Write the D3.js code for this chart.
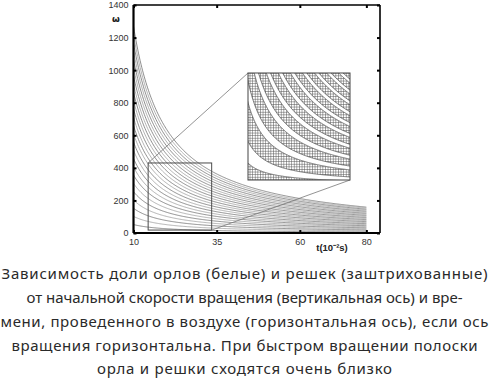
<!DOCTYPE html>
<html><head><meta charset="utf-8">
<script src="https://cdn.jsdelivr.net/npm/d3@7"></script>
<style>body{margin:0;background:#fff}svg{display:block}</style>
</head><body>
<svg id="c" width="489" height="379"></svg>
<script>
// ---- data ----
// value of ω at t = 10 (10^-2 s) for each boundary hyperbola ω·t = const
const curveOmegaAt10 = [52,102,152,203,254,305,356,406,457,508,559,610,660,711,762,813,864,914,965,1016,1067,1118,1168,1219,1270];
const xTicks = [10,35,60,80];
const yTicks = [0,200,400,600,800,1000,1200,1400];
// zoomed window in the main plot (t range, ω range)
const zoomT = [14.4, 33.5];
const zoomW = [18, 430];
// window shown by the magnified inset and its band boundaries (ω·t constants)
const insetT = [6, 33.5];
const insetW = [18, 430];
const insetBounds = [500,1000,1900,2400,3300,3800,4700,5200,6100,6600,7500,8000,8900,9400,10300,10800,11700,12200,13100,13600];
const caption = [
  "Зависимость доли орлов (белые) и решек (заштрихованные)",
  "от начальной скорости вращения (вертикальная ось) и вре-",
  "мени, проведенного в воздухе (горизонтальная ось), если ось",
  "вращения горизонтальна. При быстром вращении полоски",
  "орла и решки сходятся очень близко"
];

const svg = d3.select("#c");
const tMax = 84.1;
const x = d3.scaleLinear([10, tMax], [133.5, 380]);
const y = d3.scaleLinear([0, 1400], [233, 5]);

const defs = svg.append("defs");
const pat = defs.append("pattern").attr("id","hatch").attr("patternUnits","userSpaceOnUse")
  .attr("width",2.6).attr("height",2.6);
pat.append("rect").attr("width",2.6).attr("height",2.6).attr("fill","#fff");
pat.append("path").attr("d","M0,0.3H2.6M0.3,0V2.6").attr("stroke","#555").attr("stroke-width",0.6);
defs.append("clipPath").attr("id","plotclip").append("rect")
  .attr("x",x(10)).attr("y",y(1400)).attr("width",x(tMax)-x(10)).attr("height",y(0)-y(1400));

// ---- curves ----
const ts = d3.range(10, 80.001, 0.25);
const line = d3.line().x(d=>x(d[0])).y(d=>y(d[1]));
svg.append("g").attr("clip-path","url(#plotclip)").selectAll("path").data(curveOmegaAt10).join("path")
  .attr("d", w0 => line(ts.map(t => [t, w0*10/t])))
  .attr("fill","none")
  .attr("stroke",(d,i)=> i%2 ? "#a0a0a0" : "#727272")
  .attr("stroke-width",0.8);

// ---- zoom rectangle and connectors ----
const bx = [248, 350], by = [180, 73];
svg.append("rect").attr("x",x(zoomT[0])).attr("y",y(zoomW[1]))
  .attr("width",x(zoomT[1])-x(zoomT[0])).attr("height",y(zoomW[0])-y(zoomW[1]))
  .attr("fill","none").attr("stroke","#4a4a4a").attr("stroke-width",1);
svg.append("line").attr("x1",x(zoomT[0])).attr("y1",y(zoomW[1])).attr("x2",bx[0]).attr("y2",by[1])
  .attr("stroke","#777").attr("stroke-width",0.8);
svg.append("line").attr("x1",x(zoomT[1])).attr("y1",y(zoomW[0])).attr("x2",bx[1]).attr("y2",by[0])
  .attr("stroke","#777").attr("stroke-width",0.8);

// ---- inset ----
const ix = d3.scaleLinear(insetT, bx);
const iy = d3.scaleLinear(insetW, by);
defs.append("clipPath").attr("id","insetclip").append("rect")
  .attr("x",bx[0]).attr("y",by[1]).attr("width",bx[1]-bx[0]).attr("height",by[0]-by[1]);
const ig = svg.append("g");
ig.append("rect").attr("x",bx[0]).attr("y",by[1]).attr("width",bx[1]-bx[0]).attr("height",by[0]-by[1]).attr("fill","#fff");
const its = d3.range(insetT[0]-0.3, insetT[1]+0.3, 0.05);
const b = [0, ...insetBounds, 60000];
const bands = d3.range(b.length-1).map(i => [b[i], b[i+1], i]);
const capV = v => Math.min(v, 1500);
const area = d3.area().x(d=>ix(d.t)).y0(d=>iy(capV(d.lo))).y1(d=>iy(capV(d.hi)));
const bg = ig.append("g").attr("clip-path","url(#insetclip)");
bg.selectAll("path.band").data(bands).join("path").attr("class","band")
  .attr("d", d => area(its.map(t => ({t, lo:d[0]/t, hi:d[1]/t}))))
  .attr("fill", d => d[2]%2 ? "#fff" : "url(#hatch)");
const iline = d3.line().x(d=>ix(d[0])).y(d=>iy(capV(d[1])));
bg.selectAll("path.bd").data(insetBounds).join("path").attr("class","bd")
  .attr("d", c => iline(its.map(t => [t, c/t])))
  .attr("fill","none").attr("stroke","#333").attr("stroke-width",0.7);
ig.append("rect").attr("x",bx[0]).attr("y",by[1]).attr("width",bx[1]-bx[0]).attr("height",by[0]-by[1])
  .attr("fill","none").attr("stroke","#444").attr("stroke-width",1);

// ---- frame & axes ----
const fr = svg.append("g");
fr.append("line").attr("x1",x(10)).attr("x2",x(tMax)).attr("y1",y(1400)).attr("y2",y(1400)).attr("stroke","#000").attr("stroke-width",1.6);
fr.append("line").attr("x1",x(tMax)).attr("x2",x(tMax)).attr("y1",y(1400)).attr("y2",y(0)).attr("stroke","#000").attr("stroke-width",1.6);
fr.append("line").attr("x1",x(10)).attr("x2",x(tMax)).attr("y1",y(0)).attr("y2",y(0)).attr("stroke","#000").attr("stroke-width",2.2);
fr.append("line").attr("x1",x(10)).attr("x2",x(10)).attr("y1",y(1400)).attr("y2",y(0)).attr("stroke","#000").attr("stroke-width",2.2);

const yl = svg.append("g").attr("transform",`translate(${x(10)},0)`)
  .call(d3.axisLeft(y).tickValues(yTicks).tickSize(-3).tickPadding(5).tickFormat(d3.format("d")));
const yr = svg.append("g").attr("transform",`translate(${x(tMax)},0)`)
  .call(d3.axisRight(y).tickValues(yTicks).tickSize(-3).tickFormat(""));
const xb = svg.append("g").attr("transform",`translate(0,${y(0)})`)
  .call(d3.axisBottom(x).tickValues(xTicks).tickSize(-3).tickPadding(6).tickFormat(d3.format("d")));
const xt = svg.append("g").attr("transform",`translate(0,${y(1400)})`)
  .call(d3.axisTop(x).tickValues(xTicks).tickSize(-3).tickFormat(""));
[yl,yr,xb,xt].forEach(g=>{
  g.select(".domain").remove();
  g.selectAll(".tick line").attr("stroke","#000").attr("stroke-width",2);
  g.selectAll("text").attr("font-family","Liberation Sans, Arial, sans-serif").attr("font-size",9).attr("fill","#333");
});

svg.append("text").attr("x",116).attr("y",22).attr("text-anchor","middle")
  .attr("font-family","DejaVu Sans, sans-serif").attr("font-size",9).attr("font-weight","bold").attr("fill","#222").text("ω");
svg.append("text").attr("x",332).attr("y",251).attr("text-anchor","middle")
  .attr("font-family","Liberation Sans, Arial, sans-serif").attr("font-size",9.5).attr("font-weight","bold").attr("fill","#222").text("t(10⁻²s)");

// ---- caption ----
const capY = [279, 303, 327, 351, 374];
const capW = [486, 436, 488, 466, 295];
svg.append("g").selectAll("text").data(caption).join("text")
  .attr("x",244.5).attr("y",(d,i)=>capY[i]).attr("text-anchor","middle")
  .attr("font-family","Noto Sans, sans-serif").attr("font-size",15).attr("fill","#2a2a2a")
  .attr("textLength",(d,i)=>capW[i]).attr("lengthAdjust","spacing")
  .text(d=>d);
</script>
</body></html>
